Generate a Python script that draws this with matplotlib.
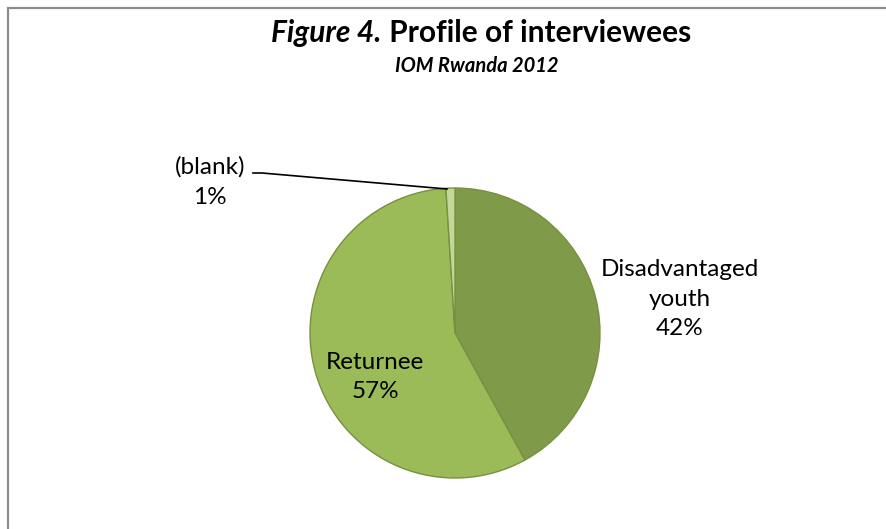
import matplotlib.pyplot as plt
from matplotlib.patches import Rectangle

# profile of interviewees
categories = ["Disadvantaged\nyouth", "Returnee", "(blank)"]
shares = [42, 57, 1]
colors = ["#7F9A48", "#9BBB59", "#C4D79B"]

W, H = 887, 529
fig = plt.figure(figsize=(W / 100, H / 100), dpi=100)
plt.rcParams['font.family'] = ['Lato', 'DejaVu Sans']

# chart area frame (runs off the right and bottom edges)
fig.patches.append(Rectangle((8 / W, -0.1), 1.2, 1 - 8 / H + 0.1,
                             transform=fig.transFigure, fill=False,
                             edgecolor="#8C8C8C", linewidth=1.6))

cx, cy, r = 455, 333, 145
ax = fig.add_axes([(cx - r) / W, 1 - (cy + r) / H, 2 * r / W, 2 * r / H])
ax.pie(shares, colors=colors, startangle=90, counterclock=False, radius=1,
       wedgeprops=dict(edgecolor="#789040", linewidth=1.0))
ax.set_xlim(-1, 1)
ax.set_ylim(-1, 1)
ax.axis("off")


def to_data(px, py):
    return (px - cx) / r, (cy - py) / r


labels = [f"{c}\n{v}%" for c, v in zip(categories, shares)]
label_pos = [(680, 299), (375, 377), (210, 182)]
for txt, (px, py) in zip(labels, label_pos):
    x, y = to_data(px, py)
    ax.text(x, y, txt, ha="center", va="center", fontsize=17.5,
            linespacing=1.5, clip_on=False)

# leader line for the small slice
lx = [to_data(253, 173)[0], to_data(262, 173)[0], to_data(447, 189)[0]]
ly = [to_data(253, 173)[1], to_data(262, 173)[1], to_data(447, 189)[1]]
ax.plot(lx, ly, color="black", linewidth=1.2, clip_on=False)

# title: italic part followed by upright bold part
renderer = fig.canvas.get_renderer()
t1 = fig.text(0, 1 - 33 / H, "Figure 4.", fontsize=21.5, fontweight="bold",
              fontstyle="italic", va="center", ha="left")
t2 = fig.text(0, 1 - 33 / H, " Profile of interviewees", fontsize=21.5,
              fontweight="bold", va="center", ha="left")
w1 = t1.get_window_extent(renderer).width
w2 = t2.get_window_extent(renderer).width
x0 = 481 - (w1 + w2) / 2
t1.set_x(x0 / W)
t2.set_x((x0 + w1) / W)

fig.text(477 / W, 1 - 66 / H, "IOM Rwanda 2012", fontsize=14.5,
         fontweight="bold", fontstyle="italic", ha="center", va="center")

fig.savefig("out.png", dpi=100)
